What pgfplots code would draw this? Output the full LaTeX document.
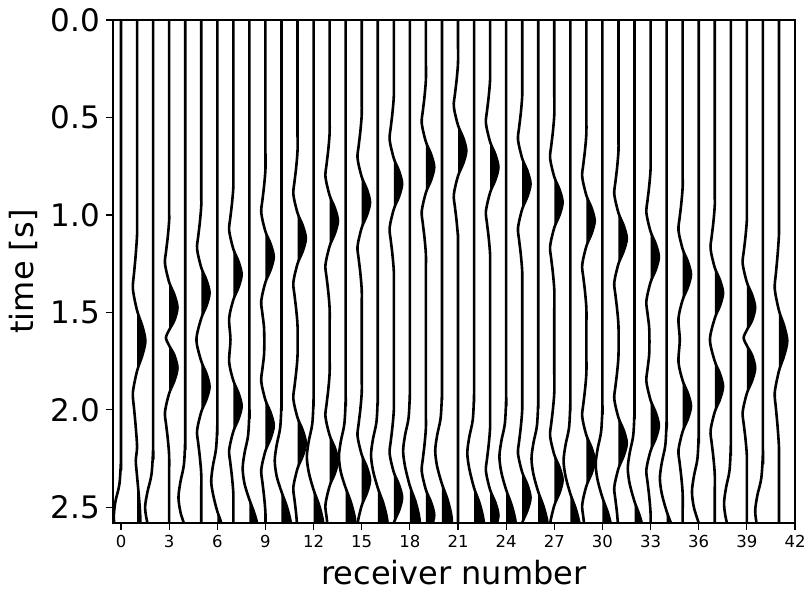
\documentclass[border=0pt]{standalone}
\usepackage{fontspec}
\setmainfont{DejaVu Sans}
\usepackage{pgfplots}
\pgfplotsset{compat=1.18}
\pgfplotsset{
  tr/.style={black, line width=2.6pt, smooth, mark=none},
  lobe/.style={fill=black, draw=none, smooth, mark=none},
}
\begin{document}
\begin{tikzpicture}
\useasboundingbox (-113pt,-69pt) rectangle (691pt,523pt);
\begin{axis}[
  at={(0pt,0pt)}, anchor=south west,
  scale only axis, width=682pt, height=503pt,
  xmin=-0.5, xmax=42, ymin=0, ymax=2.58, y dir=reverse,
  xtick={0,3,...,42}, ytick={0,0.5,1,1.5,2,2.5},
  yticklabels={0.0,0.5,1.0,1.5,2.0,2.5},
  tick pos=left, tick align=outside,
  major tick length=7pt,
  every tick/.style={black, line width=1.1pt},
  axis line style={line width=1.1pt},
  /pgf/number format/assume math mode=true,
  xticklabel style={font=\fontsize{16.5}{20}\selectfont, inner sep=0pt, yshift=-5pt},
  yticklabel style={font=\fontsize{31}{37}\selectfont, inner sep=0pt, xshift=-6pt},
  xlabel={receiver number}, ylabel={time [s]},
  label style={font=\fontsize{32}{38}\selectfont},
  xlabel style={at={(axis description cs:0.5,-0.122)}, anchor=base},
  ylabel style={at={(axis description cs:-0.131,0.5)}, anchor=center},
]
% ---------- receivers 0-9 ----------
\addplot[tr] coordinates {(0,0) (0,2.15) (0,2.25) (-0.1,2.38) (-0.35,2.47) (-0.45,2.55) (-0.35,2.62) (-0.2,2.7)};
\addplot[tr] coordinates {(1,0) (1,1.0) (1,1.10) (0.91,1.21) (0.81,1.30) (0.74,1.38) (1,1.49) (1.33,1.57) (1.52,1.646) (1.33,1.72) (1,1.80) (0.74,1.91) (0.81,1.99) (0.91,2.08) (1,2.19) (0.92,2.26) (1,2.34) (1.12,2.45) (1.2,2.55) (1.2,2.7)};
\addplot[lobe] coordinates {(1,1.49) (1.33,1.57) (1.52,1.646) (1.33,1.72) (1,1.80)} -- cycle;
\addplot[lobe] coordinates {(1,2.34) (1.12,2.45) (1.2,2.55) (1.2,2.7) (1,2.7)} -- cycle;
\addplot[tr] coordinates {(2,0) (2,2.1) (2,2.2) (1.9,2.33) (1.65,2.42) (1.5,2.5) (1.65,2.58) (2,2.66)};
\addplot[tr] coordinates {(3,0) (3,0.925) (3,1.025) (2.91,1.115) (2.81,1.185) (2.74,1.25) (3,1.345) (3.33,1.41) (3.52,1.475) (3.33,1.54) (3,1.59) (2.8,1.63) (3,1.67) (3.33,1.72) (3.52,1.785) (3.33,1.85) (3,1.915) (2.74,2.01) (2.81,2.075) (2.91,2.145) (3,2.235) (3,2.335) (3,2.7)};
\addplot[lobe] coordinates {(3,1.345) (3.33,1.41) (3.52,1.475) (3.33,1.54) (3,1.59)} -- cycle;
\addplot[lobe] coordinates {(3,1.67) (3.33,1.72) (3.52,1.785) (3.33,1.85) (3,1.915)} -- cycle;
\addplot[tr] coordinates {(4,0) (4,2.05) (4,2.15) (3.92,2.28) (3.7,2.37) (3.58,2.45) (3.72,2.53) (4,2.6) (4.2,2.66)};
\addplot[tr] coordinates {(5,0) (5,0.85) (5,0.95) (4.91,1.04) (4.81,1.11) (4.74,1.175) (5,1.27) (5.33,1.335) (5.52,1.40) (5.33,1.465) (5,1.53) (4.7,1.64) (5,1.75) (5.33,1.815) (5.52,1.88) (5.33,1.945) (5,2.01) (4.74,2.105) (4.81,2.17) (4.91,2.24) (5,2.33) (5,2.43) (5,2.7)};
\addplot[lobe] coordinates {(5,1.27) (5.33,1.335) (5.52,1.40) (5.33,1.465) (5,1.53)} -- cycle;
\addplot[lobe] coordinates {(5,1.75) (5.33,1.815) (5.52,1.88) (5.33,1.945) (5,2.01)} -- cycle;
\addplot[tr] coordinates {(6,0) (6,1.98) (6,2.08) (5.92,2.2) (5.72,2.29) (5.62,2.37) (5.78,2.45) (6,2.52) (6.25,2.58) (6.4,2.65)};
\addplot[lobe] coordinates {(6,2.52) (6.25,2.58) (6.4,2.65) (6.45,2.72) (6,2.72)} -- cycle;
\addplot[tr] coordinates {(7,0) (7,0.755) (7,0.855) (6.91,0.945) (6.81,1.015) (6.74,1.08) (7,1.175) (7.33,1.24) (7.52,1.305) (7.33,1.37) (7,1.435) (6.74,1.53) (6.82,1.64) (6.74,1.755) (7,1.85) (7.33,1.915) (7.52,1.98) (7.33,2.045) (7,2.11) (6.74,2.205) (6.81,2.27) (6.91,2.34) (7,2.43) (7,2.53) (7,2.7)};
\addplot[lobe] coordinates {(7,1.175) (7.33,1.24) (7.52,1.305) (7.33,1.37) (7,1.435)} -- cycle;
\addplot[lobe] coordinates {(7,1.85) (7.33,1.915) (7.52,1.98) (7.33,2.045) (7,2.11)} -- cycle;
\addplot[tr] coordinates {(8,0) (8,1.9) (8,2.0) (7.92,2.13) (7.7,2.22) (7.58,2.3) (7.7,2.38) (8,2.46) (8.35,2.54) (8.6,2.63) (8.64,2.75)};
\addplot[lobe] coordinates {(8,2.46) (8.35,2.54) (8.6,2.63) (8.64,2.75) (8,2.75)} -- cycle;
\addplot[tr] coordinates {(9,0) (9,0.665) (9,0.765) (8.91,0.855) (8.81,0.925) (8.74,0.99) (9,1.085) (9.33,1.15) (9.52,1.215) (9.33,1.28) (9,1.345) (8.74,1.44) (8.81,1.505) (8.91,1.575) (8.93,1.65) (8.91,1.72) (8.81,1.79) (8.74,1.855) (9,1.95) (9.33,2.015) (9.52,2.08) (9.33,2.145) (9,2.21) (8.74,2.305) (8.81,2.37) (8.91,2.44) (9,2.53) (9,2.63) (9,2.7)};
\addplot[lobe] coordinates {(9,1.085) (9.33,1.15) (9.52,1.215) (9.33,1.28) (9,1.345)} -- cycle;
\addplot[lobe] coordinates {(9,1.95) (9.33,2.015) (9.52,2.08) (9.33,2.145) (9,2.21)} -- cycle;
% ---------- receivers 10-20 ----------
\addplot[tr] coordinates {(10,0) (10,1.86) (10,1.96) (9.92,2.09) (9.7,2.18) (9.58,2.26) (9.7,2.34) (10,2.42) (10.35,2.5) (10.6,2.59) (10.64,2.71)};
\addplot[lobe] coordinates {(10,2.42) (10.35,2.5) (10.6,2.59) (10.64,2.71) (10,2.71)} -- cycle;
\addplot[tr] coordinates {(11,0) (11,0.57) (11,0.67) (10.91,0.76) (10.81,0.83) (10.74,0.895) (11,0.99) (11.33,1.055) (11.52,1.12) (11.33,1.185) (11,1.25) (10.74,1.345) (10.81,1.41) (10.91,1.48) (11,1.57) (11,1.72) (10.91,1.81) (10.81,1.88) (10.74,1.945) (11,2.04) (11.33,2.105) (11.52,2.17) (11.33,2.235) (11,2.30) (10.74,2.395) (10.81,2.46) (10.91,2.53) (11,2.62)};
\addplot[lobe] coordinates {(11,0.99) (11.33,1.055) (11.52,1.12) (11.33,1.185) (11,1.25)} -- cycle;
\addplot[lobe] coordinates {(11,2.04) (11.33,2.105) (11.52,2.17) (11.33,2.235) (11,2.30)} -- cycle;
\addplot[tr] coordinates {(12,0) (12,1.84) (12,1.94) (11.92,2.07) (11.7,2.16) (11.58,2.24) (11.7,2.32) (12,2.41) (12.35,2.49) (12.6,2.58) (12.64,2.7)};
\addplot[lobe] coordinates {(12,2.41) (12.35,2.49) (12.6,2.58) (12.64,2.7) (12,2.7)} -- cycle;
\addplot[tr] coordinates {(13,0) (13,0.48) (13,0.58) (12.91,0.67) (12.81,0.74) (12.74,0.805) (13,0.90) (13.33,0.965) (13.52,1.03) (13.33,1.095) (13,1.16) (12.74,1.255) (12.81,1.32) (12.91,1.39) (13,1.48) (13,1.58) (13,1.71) (13,1.81) (12.91,1.90) (12.81,1.97) (12.74,2.035) (13,2.13) (13.33,2.195) (13.52,2.26) (13.33,2.325) (13,2.39) (12.74,2.485) (12.81,2.55) (12.91,2.62) (13,2.71)};
\addplot[lobe] coordinates {(13,0.90) (13.33,0.965) (13.52,1.03) (13.33,1.095) (13,1.16)} -- cycle;
\addplot[lobe] coordinates {(13,2.13) (13.33,2.195) (13.52,2.26) (13.33,2.325) (13,2.39)} -- cycle;
\addplot[tr] coordinates {(14,0) (14,1.84) (14,1.94) (13.92,2.07) (13.7,2.16) (13.58,2.24) (13.7,2.32) (14,2.40) (14.35,2.48) (14.6,2.57) (14.64,2.69)};
\addplot[lobe] coordinates {(14,2.40) (14.35,2.48) (14.6,2.57) (14.64,2.69) (14,2.69)} -- cycle;
\addplot[tr] coordinates {(15,0) (15,0.385) (15,0.485) (14.91,0.575) (14.81,0.645) (14.74,0.71) (15,0.805) (15.33,0.87) (15.52,0.935) (15.33,1.0) (15,1.065) (14.74,1.16) (14.81,1.225) (14.91,1.295) (15,1.385) (15,1.485) (15,1.81) (15,1.91) (14.91,2.0) (14.81,2.07) (14.74,2.135) (15,2.23) (15.33,2.295) (15.52,2.36) (15.33,2.425) (15,2.49) (14.74,2.585) (14.81,2.65)};
\addplot[lobe] coordinates {(15,0.805) (15.33,0.87) (15.52,0.935) (15.33,1.0) (15,1.065)} -- cycle;
\addplot[lobe] coordinates {(15,2.23) (15.33,2.295) (15.52,2.36) (15.33,2.425) (15,2.49)} -- cycle;
\addplot[tr] coordinates {(16,0) (16,1.83) (16,1.93) (15.92,2.06) (15.7,2.15) (15.58,2.23) (15.7,2.31) (16,2.40) (16.35,2.48) (16.6,2.57) (16.64,2.69)};
\addplot[lobe] coordinates {(16,2.40) (16.35,2.48) (16.6,2.57) (16.64,2.69) (16,2.69)} -- cycle;
\addplot[tr] coordinates {(17,0) (17,0.29) (17,0.39) (16.91,0.48) (16.81,0.55) (16.74,0.615) (17,0.71) (17.33,0.775) (17.52,0.84) (17.33,0.905) (17,0.97) (16.74,1.065) (16.81,1.13) (16.91,1.2) (17,1.29) (17,1.39) (17,1.9) (17,2.0) (16.91,2.09) (16.81,2.16) (16.74,2.225) (17,2.32) (17.33,2.385) (17.52,2.45) (17.33,2.515) (17,2.58) (16.74,2.675)};
\addplot[lobe] coordinates {(17,0.71) (17.33,0.775) (17.52,0.84) (17.33,0.905) (17,0.97)} -- cycle;
\addplot[lobe] coordinates {(17,2.32) (17.33,2.385) (17.52,2.45) (17.33,2.515) (17,2.58)} -- cycle;
\addplot[tr] coordinates {(18,0) (18,1.81) (18,1.91) (17.92,2.04) (17.7,2.13) (17.58,2.21) (17.7,2.29) (18,2.39) (18.35,2.47) (18.6,2.56) (18.64,2.68)};
\addplot[lobe] coordinates {(18,2.39) (18.35,2.47) (18.6,2.56) (18.64,2.68) (18,2.68)} -- cycle;
\addplot[tr] coordinates {(19,0) (19,0.205) (19,0.305) (18.91,0.395) (18.81,0.465) (18.74,0.53) (19,0.625) (19.33,0.69) (19.52,0.755) (19.33,0.82) (19,0.885) (18.74,0.98) (18.81,1.045) (18.91,1.115) (19,1.205) (19,1.305) (19,1.99) (19,2.09) (18.91,2.18) (18.81,2.25) (18.74,2.315) (19,2.41) (19.33,2.475) (19.52,2.54) (19.33,2.605) (19,2.67)};
\addplot[lobe] coordinates {(19,0.625) (19.33,0.69) (19.52,0.755) (19.33,0.82) (19,0.885)} -- cycle;
\addplot[lobe] coordinates {(19,2.41) (19.33,2.475) (19.52,2.54) (19.33,2.605) (19,2.67)} -- cycle;
\addplot[tr] coordinates {(20,0) (20,1.81) (20,1.91) (19.92,2.04) (19.7,2.13) (19.58,2.21) (19.7,2.29) (20,2.38) (20.35,2.46) (20.6,2.55) (20.64,2.67)};
\addplot[lobe] coordinates {(20,2.38) (20.35,2.46) (20.6,2.55) (20.64,2.67) (20,2.67)} -- cycle;
% ---------- receiver 21 ----------
\addplot[tr] coordinates {(21,0) (21,0.12) (21,0.22) (20.91,0.31) (20.81,0.38) (20.74,0.445) (21,0.54) (21.33,0.605) (21.52,0.67) (21.33,0.735) (21,0.80) (20.74,0.895) (20.81,0.96) (20.91,1.03) (21,1.12) (21,1.22) (21,2.7)};
\addplot[lobe] coordinates {(21,0.54) (21.33,0.605) (21.52,0.67) (21.33,0.735) (21,0.80)} -- cycle;
% ---------- receivers 22-32 ----------
\addplot[tr] coordinates {(22,0) (22,1.82) (22,1.92) (21.92,2.05) (21.7,2.14) (21.58,2.22) (21.7,2.30) (22,2.40) (22.35,2.48) (22.6,2.57) (22.64,2.69)};
\addplot[lobe] coordinates {(22,2.40) (22.35,2.48) (22.6,2.57) (22.64,2.69) (22,2.69)} -- cycle;
\addplot[tr] coordinates {(23,0) (23,0.205) (23,0.305) (22.91,0.395) (22.81,0.465) (22.74,0.53) (23,0.625) (23.33,0.69) (23.52,0.755) (23.33,0.82) (23,0.885) (22.74,0.98) (22.81,1.045) (22.91,1.115) (23,1.205) (23,1.305) (23,1.99) (23,2.09) (22.91,2.18) (22.81,2.25) (22.74,2.315) (23,2.41) (23.33,2.475) (23.52,2.54) (23.33,2.605) (23,2.67)};
\addplot[lobe] coordinates {(23,0.625) (23.33,0.69) (23.52,0.755) (23.33,0.82) (23,0.885)} -- cycle;
\addplot[lobe] coordinates {(23,2.41) (23.33,2.475) (23.52,2.54) (23.33,2.605) (23,2.67)} -- cycle;
\addplot[tr] coordinates {(24,0) (24,1.84) (24,1.94) (23.92,2.07) (23.7,2.16) (23.58,2.24) (23.7,2.32) (24,2.41) (24.35,2.49) (24.6,2.58) (24.64,2.7)};
\addplot[lobe] coordinates {(24,2.41) (24.35,2.49) (24.6,2.58) (24.64,2.7) (24,2.7)} -- cycle;
\addplot[tr] coordinates {(25,0) (25,0.29) (25,0.39) (24.91,0.48) (24.81,0.55) (24.74,0.615) (25,0.71) (25.33,0.775) (25.52,0.84) (25.33,0.905) (25,0.97) (24.74,1.065) (24.81,1.13) (24.91,1.2) (25,1.29) (25,1.39) (25,1.9) (25,2.0) (24.91,2.09) (24.81,2.16) (24.74,2.225) (25,2.32) (25.33,2.385) (25.52,2.45) (25.33,2.515) (25,2.58) (24.74,2.675)};
\addplot[lobe] coordinates {(25,0.71) (25.33,0.775) (25.52,0.84) (25.33,0.905) (25,0.97)} -- cycle;
\addplot[lobe] coordinates {(25,2.32) (25.33,2.385) (25.52,2.45) (25.33,2.515) (25,2.58)} -- cycle;
\addplot[tr] coordinates {(26,0) (26,1.85) (26,1.95) (25.92,2.08) (25.7,2.17) (25.58,2.25) (25.7,2.33) (26,2.42) (26.35,2.5) (26.6,2.59) (26.64,2.71)};
\addplot[lobe] coordinates {(26,2.42) (26.35,2.5) (26.6,2.59) (26.64,2.71) (26,2.71)} -- cycle;
\addplot[tr] coordinates {(27,0) (27,0.385) (27,0.485) (26.91,0.575) (26.81,0.645) (26.74,0.71) (27,0.805) (27.33,0.87) (27.52,0.935) (27.33,1.0) (27,1.065) (26.74,1.16) (26.81,1.225) (26.91,1.295) (27,1.385) (27,1.485) (27,1.81) (27,1.91) (26.91,2.0) (26.81,2.07) (26.74,2.135) (27,2.23) (27.33,2.295) (27.52,2.36) (27.33,2.425) (27,2.49) (26.74,2.585) (26.81,2.65)};
\addplot[lobe] coordinates {(27,0.805) (27.33,0.87) (27.52,0.935) (27.33,1.0) (27,1.065)} -- cycle;
\addplot[lobe] coordinates {(27,2.23) (27.33,2.295) (27.52,2.36) (27.33,2.425) (27,2.49)} -- cycle;
\addplot[tr] coordinates {(28,0) (28,1.86) (28,1.96) (27.92,2.09) (27.7,2.18) (27.58,2.26) (27.7,2.34) (28,2.43) (28.35,2.51) (28.6,2.6) (28.64,2.72)};
\addplot[lobe] coordinates {(28,2.43) (28.35,2.51) (28.6,2.6) (28.64,2.72) (28,2.72)} -- cycle;
\addplot[tr] coordinates {(29,0) (29,0.48) (29,0.58) (28.91,0.67) (28.81,0.74) (28.74,0.805) (29,0.90) (29.33,0.965) (29.52,1.03) (29.33,1.095) (29,1.16) (28.74,1.255) (28.81,1.32) (28.91,1.39) (29,1.48) (29,1.58) (29,1.71) (29,1.81) (28.91,1.90) (28.81,1.97) (28.74,2.035) (29,2.13) (29.33,2.195) (29.52,2.26) (29.33,2.325) (29,2.39) (28.74,2.485) (28.81,2.55) (28.91,2.62) (29,2.71)};
\addplot[lobe] coordinates {(29,0.90) (29.33,0.965) (29.52,1.03) (29.33,1.095) (29,1.16)} -- cycle;
\addplot[lobe] coordinates {(29,2.13) (29.33,2.195) (29.52,2.26) (29.33,2.325) (29,2.39)} -- cycle;
\addplot[tr] coordinates {(30,0) (30,1.88) (30,1.98) (29.92,2.11) (29.7,2.2) (29.58,2.28) (29.7,2.36) (30,2.45) (30.35,2.53) (30.6,2.62) (30.64,2.74)};
\addplot[lobe] coordinates {(30,2.45) (30.35,2.53) (30.6,2.62) (30.64,2.74) (30,2.74)} -- cycle;
\addplot[tr] coordinates {(31,0) (31,0.57) (31,0.67) (30.91,0.76) (30.81,0.83) (30.74,0.895) (31,0.99) (31.33,1.055) (31.52,1.12) (31.33,1.185) (31,1.25) (30.74,1.345) (30.81,1.41) (30.91,1.48) (31,1.57) (31,1.72) (30.91,1.81) (30.81,1.88) (30.74,1.945) (31,2.04) (31.33,2.105) (31.52,2.17) (31.33,2.235) (31,2.30) (30.74,2.395) (30.81,2.46) (30.91,2.53) (31,2.62)};
\addplot[lobe] coordinates {(31,0.99) (31.33,1.055) (31.52,1.12) (31.33,1.185) (31,1.25)} -- cycle;
\addplot[lobe] coordinates {(31,2.04) (31.33,2.105) (31.52,2.17) (31.33,2.235) (31,2.30)} -- cycle;
\addplot[tr] coordinates {(32,0) (32,1.9) (32,2.0) (31.92,2.13) (31.7,2.22) (31.58,2.3) (31.7,2.38) (32,2.47) (32.35,2.55) (32.6,2.64) (32.64,2.76)};
\addplot[lobe] coordinates {(32,2.47) (32.35,2.55) (32.6,2.64) (32.64,2.76) (32,2.76)} -- cycle;
% ---------- receivers 33-41 ----------
\addplot[tr] coordinates {(33,0) (33,0.665) (33,0.765) (32.91,0.855) (32.81,0.925) (32.74,0.99) (33,1.085) (33.33,1.15) (33.52,1.215) (33.33,1.28) (33,1.345) (32.74,1.44) (32.81,1.505) (32.91,1.575) (32.93,1.65) (32.91,1.72) (32.81,1.79) (32.74,1.855) (33,1.95) (33.33,2.015) (33.52,2.08) (33.33,2.145) (33,2.21) (32.74,2.305) (32.81,2.37) (32.91,2.44) (33,2.53) (33,2.63) (33,2.7)};
\addplot[lobe] coordinates {(33,1.085) (33.33,1.15) (33.52,1.215) (33.33,1.28) (33,1.345)} -- cycle;
\addplot[lobe] coordinates {(33,1.95) (33.33,2.015) (33.52,2.08) (33.33,2.145) (33,2.21)} -- cycle;
\addplot[tr] coordinates {(34,0) (34,1.95) (34,2.05) (33.92,2.18) (33.7,2.27) (33.58,2.35) (33.7,2.43) (34,2.52) (34.35,2.6) (34.6,2.69)};
\addplot[lobe] coordinates {(34,2.52) (34.35,2.6) (34.6,2.69) (34,2.69)} -- cycle;
\addplot[tr] coordinates {(35,0) (35,0.755) (35,0.855) (34.91,0.945) (34.81,1.015) (34.74,1.08) (35,1.175) (35.33,1.24) (35.52,1.305) (35.33,1.37) (35,1.435) (34.74,1.53) (34.82,1.64) (34.74,1.755) (35,1.85) (35.33,1.915) (35.52,1.98) (35.33,2.045) (35,2.11) (34.74,2.205) (34.81,2.27) (34.91,2.34) (35,2.43) (35,2.53) (35,2.7)};
\addplot[lobe] coordinates {(35,1.175) (35.33,1.24) (35.52,1.305) (35.33,1.37) (35,1.435)} -- cycle;
\addplot[lobe] coordinates {(35,1.85) (35.33,1.915) (35.52,1.98) (35.33,2.045) (35,2.11)} -- cycle;
\addplot[tr] coordinates {(36,0) (36,2.02) (36,2.12) (35.92,2.25) (35.7,2.34) (35.58,2.42) (35.7,2.5) (36,2.58) (36.3,2.66)};
\addplot[tr] coordinates {(37,0) (37,0.85) (37,0.95) (36.91,1.04) (36.81,1.11) (36.74,1.175) (37,1.27) (37.33,1.335) (37.52,1.40) (37.33,1.465) (37,1.53) (36.7,1.64) (37,1.75) (37.33,1.815) (37.52,1.88) (37.33,1.945) (37,2.01) (36.74,2.105) (36.81,2.17) (36.91,2.24) (37,2.33) (37,2.43) (37,2.7)};
\addplot[lobe] coordinates {(37,1.27) (37.33,1.335) (37.52,1.40) (37.33,1.465) (37,1.53)} -- cycle;
\addplot[lobe] coordinates {(37,1.75) (37.33,1.815) (37.52,1.88) (37.33,1.945) (37,2.01)} -- cycle;
\addplot[tr] coordinates {(38,0) (38,2.08) (38,2.18) (37.92,2.31) (37.7,2.4) (37.58,2.48) (37.7,2.56) (38,2.64)};
\addplot[tr] coordinates {(39,0) (39,0.925) (39,1.025) (38.91,1.115) (38.81,1.185) (38.74,1.25) (39,1.345) (39.33,1.41) (39.52,1.475) (39.33,1.54) (39,1.59) (38.8,1.63) (39,1.67) (39.33,1.72) (39.52,1.785) (39.33,1.85) (39,1.915) (38.74,2.01) (38.81,2.075) (38.91,2.145) (39,2.235) (39,2.335) (39,2.7)};
\addplot[lobe] coordinates {(39,1.345) (39.33,1.41) (39.52,1.475) (39.33,1.54) (39,1.59)} -- cycle;
\addplot[lobe] coordinates {(39,1.67) (39.33,1.72) (39.52,1.785) (39.33,1.85) (39,1.915)} -- cycle;
\addplot[tr] coordinates {(40,0) (40,2.12) (40,2.22) (39.9,2.35) (39.65,2.44) (39.52,2.52) (39.65,2.6) (39.9,2.68)};
\addplot[tr] coordinates {(41,0) (41,1.0) (41,1.10) (40.91,1.21) (40.81,1.30) (40.74,1.38) (41,1.49) (41.33,1.57) (41.52,1.646) (41.33,1.72) (41,1.80) (40.74,1.91) (40.81,1.99) (40.91,2.08) (41,2.19) (41,2.29) (41,2.7)};
\addplot[lobe] coordinates {(41,1.49) (41.33,1.57) (41.52,1.646) (41.33,1.72) (41,1.80)} -- cycle;
\end{axis}
\end{tikzpicture}
\end{document}
